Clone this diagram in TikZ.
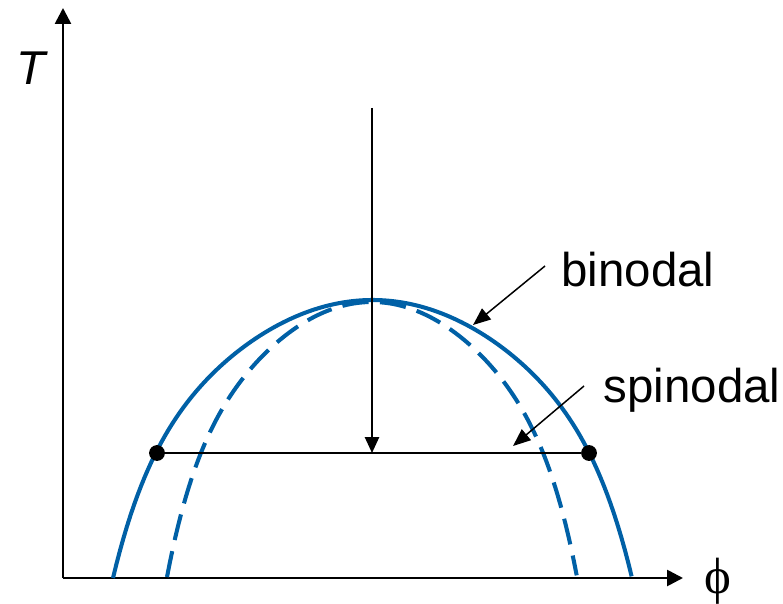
\documentclass[tikz,border=0pt]{standalone}
\usepackage{fontspec}
\setmainfont{Liberation Sans}
\newfontfamily\phifont{Liberation Serif}
\usetikzlibrary{arrows.meta}
\definecolor{curveblue}{RGB}{0,96,166}

\tikzset{
  axis/.style={line width=1.5pt,-{Triangle[length=9pt,width=9pt]}},
  curve/.style={curveblue,line width=2.3pt},
  pointer/.style={line width=0.85pt,-{Triangle[length=10pt,width=8pt]}},
  dot/.style={circle,fill=black,inner sep=0pt,minimum size=9pt},
  lbl/.style={font=\fontsize{27}{30}\selectfont,inner sep=0pt}
}

\begin{document}
\begin{tikzpicture}[x=0.02cm,y=-0.02cm]
\useasboundingbox (0,0) rectangle (783,604);
% axes
\coordinate (O) at (63,578);
\coordinate (Ttop) at (63,8);
\coordinate (Pend) at (683,578);
\draw[axis] (O)--(Ttop);
\draw[axis] (O)--(Pend);
\node[lbl,font=\fontsize{27}{30}\selectfont\itshape] (T) at (31,68) {T};
\node[lbl,font=\fontsize{29}{30}\selectfont\phifont] (phi) at (718,581) {ϕ};
% binodal and spinodal
\draw[curve] plot[domain=-1:1,samples=150] ({372.5+259.5*\x},{578-278*(1-0.68*\x*\x-0.32*(\x*\x)^4)});
\draw[curve,dash pattern=on 15pt off 6.5pt] plot[domain=-1:1,samples=150] ({372+205*\x},{577-275*(1-0.68*\x*\x-0.32*(\x*\x)^4)});
% tie line and quench
\node[dot] (L) at (157,453) {};
\node[dot] (R) at (589,453) {};
\draw[line width=1.1pt] (L)--(R);
\coordinate (start) at (372,108);
\coordinate (mid) at (372,453);
\draw[line width=1.1pt,-{Triangle[length=9pt,width=8pt]}] (start)--(mid);
% labels
\node[lbl] (bin) at (638,270) {binodal};
\node[lbl] (spin) at (692,390) {spinodal};
\coordinate (binpt) at (473,325);
\coordinate (spinpt) at (513,446);
\draw[pointer] (545,266)--(binpt);
\draw[pointer] (584,386)--(spinpt);
\end{tikzpicture}
\end{document}
